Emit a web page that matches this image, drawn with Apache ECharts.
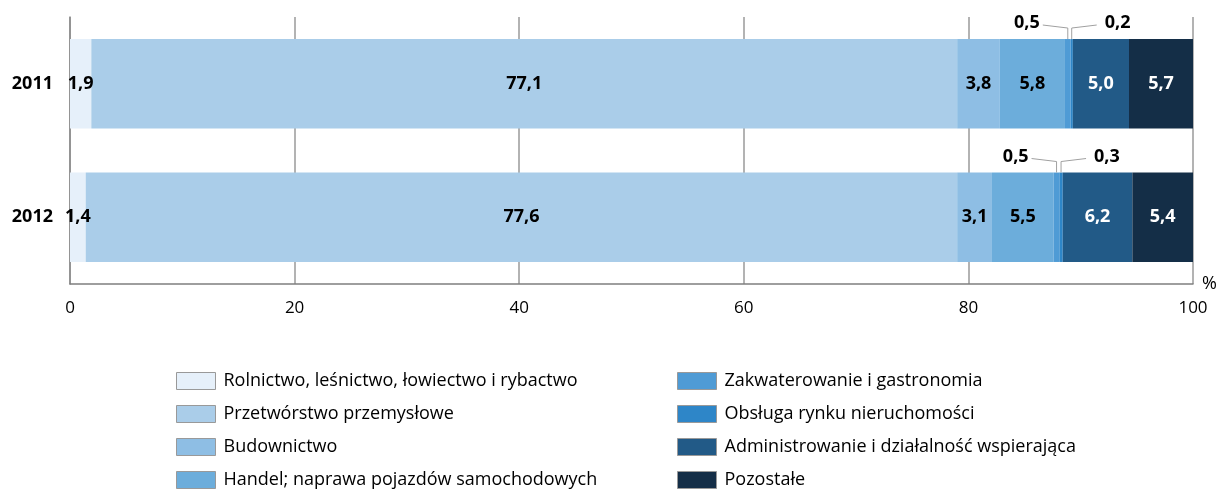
<!DOCTYPE html>
<html>
<head>
<meta charset="utf-8">
<script src="https://cdn.jsdelivr.net/npm/echarts@6/dist/echarts.min.js"></script>
<style>
  html, body { margin: 0; padding: 0; background: #fff; }
  #chart { width: 1220px; height: 493px; }
</style>
</head>
<body>
<div id="chart"></div>
<script>
// dane: struktura (%) wg sekcji, lata 2011 i 2012
const years = ['2011', '2012']
const sectors = [
  'Rolnictwo, leśnictwo, łowiectwo i rybactwo',
  'Przetwórstwo przemysłowe',
  'Budownictwo',
  'Handel; naprawa pojazdów samochodowych',
  'Zakwaterowanie i gastronomia',
  'Obsługa rynku nieruchomości',
  'Administrowanie i działalność wspierająca',
  'Pozostałe'
]
const values2011 = [1.9, 77.1, 3.8, 5.8, 0.5, 0.2, 5.0, 5.7]
const values2012 = [1.4, 77.6, 3.1, 5.5, 0.5, 0.3, 6.2, 5.4]
const xTicks = [0, 20, 40, 60, 80, 100]

const colors = ['#e6f0fa', '#aacde9', '#8ebee4', '#6caddb', '#4f9bd5', '#2e86c8', '#225a87', '#142e47']
const whiteText = [false, false, false, false, false, false, true, true]
const outside = [4, 5]   // małe odcinki z podpisem nad słupkiem

const fmt = v => v.toFixed(1).replace('.', ',')
const font = 'Open Sans'

const barSeries = sectors.map((name, i) => ({
  name,
  type: 'bar',
  stack: 'total',
  barWidth: '67%',
  data: [values2011[i], values2012[i]],
  itemStyle: {color: colors[i]},
  label: {
    show: !outside.includes(i),
    position: 'inside',
    formatter: p => fmt(p.value),
    color: whiteText[i] ? '#fff' : '#000',
    fontFamily: font,
    fontWeight: 'bold',
    fontSize: 18
  },
  emphasis: {disabled: true}
}))

// podpisy z linią odniesienia dla małych odcinków
const calloutData = []
;[values2011, values2012].forEach((vals, yi) => {
  outside.forEach((si, k) => {
    const start = vals.slice(0, si).reduce((a, b) => a + b, 0)
    calloutData.push([start + vals[si] / 2, yi, fmt(vals[si]), k === 0 ? -1 : 1])
  })
})

const calloutSeries = {
  type: 'custom',
  data: calloutData,
  encode: {x: 0, y: 1},
  z: 5,
  silent: true,
  renderItem: (params, api) => {
    const p = api.coord([api.value(0), api.value(1)])
    const band = api.size([0, 1])[1]
    const top = p[1] - band * 0.67 / 2
    const side = api.value(3)
    const endX = p[0] + side * 25
    const endY = top - 14
    return {
      type: 'group',
      children: [
        {
          type: 'polyline',
          shape: {points: [[p[0], top], [p[0], top - 11], [endX, endY]]},
          style: {stroke: '#a0a0a0', lineWidth: 1, fill: null}
        },
        {
          type: 'text',
          style: {
            x: endX + (side < 0 ? -3 : 8),
            y: endY - 2,
            text: calloutData[params.dataIndex][2],
            align: side < 0 ? 'right' : 'left',
            verticalAlign: 'middle',
            fill: '#000',
            font: 'bold 18px "Open Sans"'
          }
        }
      ]
    }
  }
}

const legendBase = {
  orient: 'vertical',
  padding: 0,
  height: 118,
  itemWidth: 39,
  itemHeight: 17,
  itemGap: 15,
  selectedMode: false,
  icon: 'rect',
  itemStyle: {borderColor: '#999', borderWidth: 1},
  textStyle: {fontFamily: font, fontSize: 18, color: '#000', padding: [0, 0, 0, 3]}
}

const chart = echarts.init(document.getElementById('chart'))
chart.setOption({
  animation: false,
  color: colors,
  grid: {left: 70, right: 27, top: 17, bottom: 209},
  xAxis: {
    type: 'value',
    min: xTicks[0],
    max: xTicks[xTicks.length - 1],
    interval: xTicks[1] - xTicks[0],
    name: '%',
    nameLocation: 'end',
    nameGap: 9,
    nameTextStyle: {fontFamily: font, fontSize: 18, color: '#000', padding: [0, 0, 6, 0]},
    axisLine: {show: true, lineStyle: {color: '#7f7f7f', width: 1.5}},
    axisTick: {show: false},
    axisLabel: {fontFamily: font, fontSize: 17, color: '#000', margin: 16},
    splitLine: {show: true, lineStyle: {color: '#9a9a9a', width: 1.5}}
  },
  yAxis: {
    type: 'category',
    inverse: true,
    data: years,
    axisLine: {show: true, lineStyle: {color: '#8a8a8a', width: 1.5}},
    axisTick: {show: false},
    axisLabel: {fontFamily: font, fontSize: 18, fontWeight: 'bold', color: '#000', margin: 17}
  },
  legend: [
    Object.assign({}, legendBase, {left: 176, top: 372, data: sectors.slice(0, 4)}),
    Object.assign({}, legendBase, {left: 677, top: 372, data: sectors.slice(4)})
  ],
  series: [...barSeries, calloutSeries]
})
</script>
</body>
</html>
